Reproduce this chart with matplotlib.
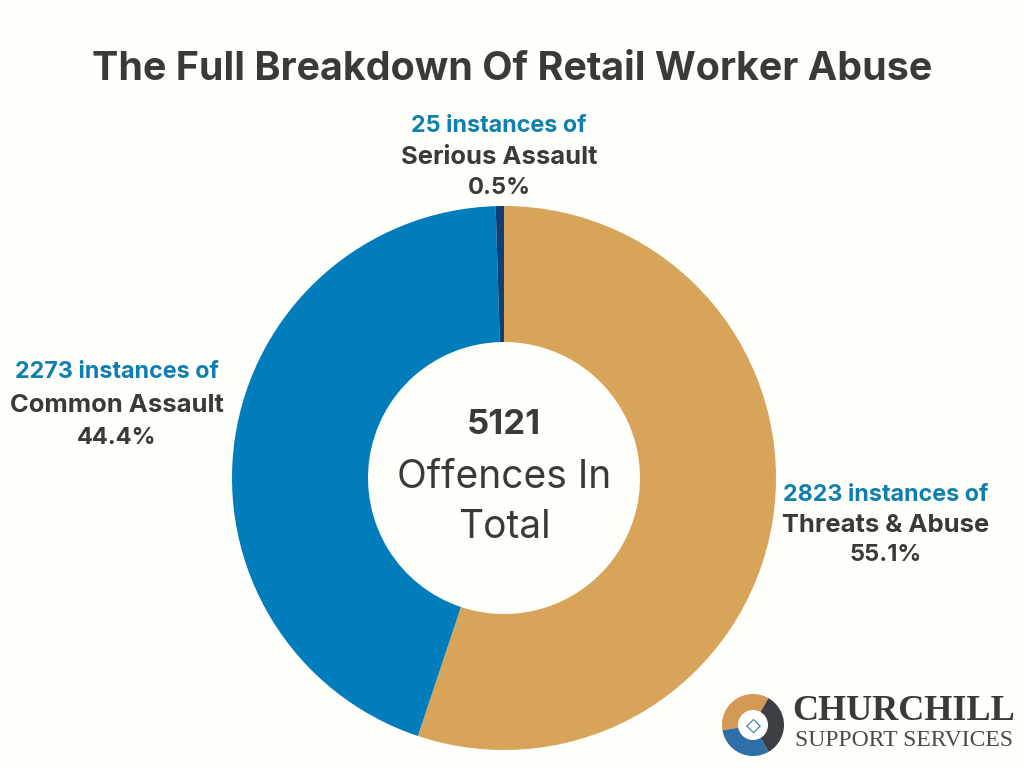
import matplotlib
matplotlib.use("Agg")
import matplotlib.pyplot as plt
from matplotlib.patches import Circle, Wedge, Rectangle

categories = ["Threats & Abuse", "Common Assault", "Serious Assault"]
instances = [2823, 2273, 25]
percents = ["55.1%", "44.4%", "0.5%"]
colors = ["#D8A45A", "#017DBB", "#0E3F75"]
total = 5121
title = "The Full Breakdown Of Retail Worker Abuse"
BG = "#FEFEFA"; DARK = "#3A3A38"; TEAL = "#0E7FAF"
plt.rcParams['font.family'] = ["Inter", "Open Sans", "DejaVu Sans"]

fig = plt.figure(figsize=(10.24, 7.68), dpi=100, facecolor=BG)
ax = fig.add_axes([0, 0, 1, 1])

ax.pie(instances, colors=colors, startangle=-90, counterclock=True, center=(504, 478), radius=272,
       wedgeprops=dict(width=136, linewidth=0), frame=False)
ax.set_aspect("equal")
ax.set_xlim(0, 1024); ax.set_ylim(768, 0); ax.axis("off")

ax.text(512, 69, title, ha="center", va="center", fontsize=28.4, fontweight="bold", color=DARK)

def label(x, y0, dy, i):
    ax.text(x, y0, f"{instances[i]} instances of", ha="center", va="center", fontsize=16.8, fontweight="bold", color=TEAL)
    ax.text(x, y0 + dy, categories[i], ha="center", va="center", fontsize=18.4, fontweight="bold", color=DARK)
    ax.text(x, y0 + 2 * dy, percents[i], ha="center", va="center", fontsize=17, fontweight="bold", color=DARK)

label(499, 126, 31, 2)
label(117, 372, 33, 1)
label(886, 495, 30, 0)

ax.text(504, 425, str(total), ha="center", va="center", fontsize=25, fontweight="bold", color=DARK)
ax.text(504, 477, "Offences In", ha="center", va="center", fontsize=28, fontweight="normal", color=DARK)
ax.text(504, 528, "Total", ha="center", va="center", fontsize=28, fontweight="normal", color=DARK)

# logo
ax.add_patch(Wedge((753, 725), 31, 170, 300, color="#D49A55", lw=0))
ax.add_patch(Wedge((753, 725), 31, 300, 60, color="#3C4044", lw=0))
ax.add_patch(Wedge((753, 725), 31, 60, 170, color="#2F6FA8", lw=0))
ax.add_patch(Circle((753, 725), 15, color="white", lw=0))
ax.text(753, 725, "◇", ha="center", va="center", fontsize=14, color="#1F6FA8", family=["DejaVu Sans"])
ax.text(904, 712, "CHURCHILL", ha="center", va="center", fontsize=26, fontweight="bold", family=["Liberation Serif"], color=DARK)
ax.text(904, 741, "SUPPORT SERVICES", ha="center", va="center", fontsize=17, family=["Liberation Serif"], color="#4A4A48")

fig.savefig("out.png", dpi=100, facecolor=BG)
